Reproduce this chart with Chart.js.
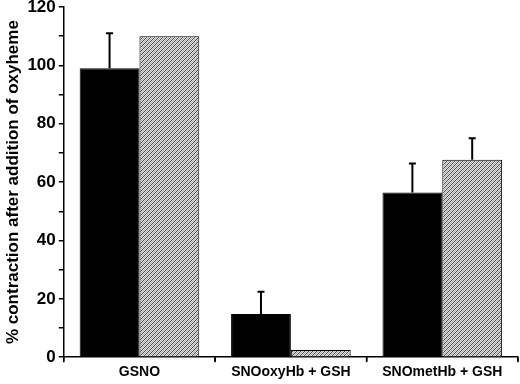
<!DOCTYPE html>
<html>
<head>
<meta charset="utf-8">
<script src="https://cdn.jsdelivr.net/npm/chart.js@4/dist/chart.umd.min.js"></script>
<style>
  html, body { margin: 0; padding: 0; background: #fff; }
  #wrap { width: 520px; height: 384px; }
</style>
</head>
<body>
<div id="wrap"><canvas id="chart"></canvas></div>
<script>
const categories = ["GSNO", "SNOoxyHb + GSH", "SNOmetHb + GSH"]
const solidValues = [99, 14.8, 56.4]
const solidErrors = [12, 7.6, 10]
const hatchValues = [110, 2.5, 67.7]
const hatchErrors = [0, 0, 7.3]
const yTicks = [0, 20, 40, 60, 80, 100, 120]

function makeHatch() {
  const c = document.createElement("canvas")
  c.width = 4
  c.height = 4
  const ctx = c.getContext("2d")
  ctx.fillStyle = "#e2e2e2"
  ctx.fillRect(0, 0, 4, 4)
  for (let i = 0; i < 4; i++) {
    ctx.fillStyle = "#4a4a4a"
    ctx.fillRect(i, 3 - i, 1, 1)
    ctx.fillStyle = "#a8a8a8"
    ctx.fillRect((i + 2) % 4, 3 - i, 1, 1)
  }
  return ctx.createPattern(c, "repeat")
}

// upward error bars with a cap, drawn from the dataset's own scale
const errorBars = {
  id: "errorBars",
  afterDatasetsDraw(chart) {
    const ctx = chart.ctx
    const y = chart.scales.y
    ctx.save()
    ctx.strokeStyle = "#000"
    ctx.lineWidth = 2
    chart.data.datasets.forEach((ds, di) => {
      const meta = chart.getDatasetMeta(di)
      meta.data.forEach((bar, i) => {
        const err = ds.errors[i]
        if (!err) return
        const top = y.getPixelForValue(ds.data[i] + err)
        ctx.beginPath()
        ctx.moveTo(bar.x, bar.y)
        ctx.lineTo(bar.x, top)
        ctx.moveTo(bar.x - 3.5, top)
        ctx.lineTo(bar.x + 3.5, top)
        ctx.stroke()
      })
    })
    ctx.restore()
  }
}

// tick marks at the category boundaries as well as the centres
const boundaryTicks = {
  id: "boundaryTicks",
  afterDraw(chart) {
    const x = chart.scales.x
    const ctx = chart.ctx
    ctx.save()
    ctx.strokeStyle = "#000"
    ctx.lineWidth = 1.5
    const half = (x.getPixelForValue(1) - x.getPixelForValue(0)) / 2
    for (let i = 0; i <= categories.length; i++) {
      const px = x.getPixelForValue(0) - half + i * half * 2
      ctx.beginPath()
      ctx.moveTo(px, x.top)
      ctx.lineTo(px, x.top + 5)
      ctx.stroke()
    }
    ctx.restore()
  }
}

new Chart(document.getElementById("chart"), {
  type: "bar",
  data: {
    labels: categories,
    datasets: [
      {
        data: solidValues,
        errors: solidErrors,
        backgroundColor: "#000",
        borderColor: "#000",
        borderWidth: 1,
        barPercentage: 1,
        categoryPercentage: 0.79
      },
      {
        data: hatchValues,
        errors: hatchErrors,
        backgroundColor: makeHatch(),
        borderColor: "#000",
        borderWidth: 1,
        barPercentage: 1,
        categoryPercentage: 0.79
      }
    ]
  },
  options: {
    responsive: true,
    maintainAspectRatio: false,
    animation: false,
    layout: { padding: { top: 7, right: 2, left: 3, bottom: 0 } },
    plugins: {
      legend: { display: false },
      tooltip: { enabled: false }
    },
    scales: {
      x: {
        grid: { display: true, drawOnChartArea: false, drawTicks: true, tickLength: 4, color: "#000", lineWidth: 1.5 },
        border: { color: "#000", width: 1.5 },
        ticks: { color: "#000", font: { family: "Liberation Sans, Arial", size: 14, weight: "bold" }, padding: 3 }
      },
      y: {
        min: 0,
        max: 120,
        afterFit: (scale) => { scale.paddingTop = 0 },
        grid: { drawOnChartArea: false, drawTicks: true, tickLength: 5, color: "#000", lineWidth: 1.5 },
        border: { color: "#000", width: 1.5 },
        ticks: {
          stepSize: 10,
          autoSkip: false,
          color: "#000",
          padding: 3,
          font: { family: "Liberation Sans, Arial", size: 17, weight: "bold" },
          callback: (v) => yTicks.includes(v) ? v : ""
        },
        title: {
          display: true,
          text: "% contraction after addition of oxyheme",
          color: "#000",
          font: { family: "Liberation Sans, Arial", size: 17, weight: "bold" },
          padding: { top: 0, bottom: 1 }
        }
      }
    }
  },
  plugins: [errorBars, boundaryTicks]
})
</script>
</body>
</html>
